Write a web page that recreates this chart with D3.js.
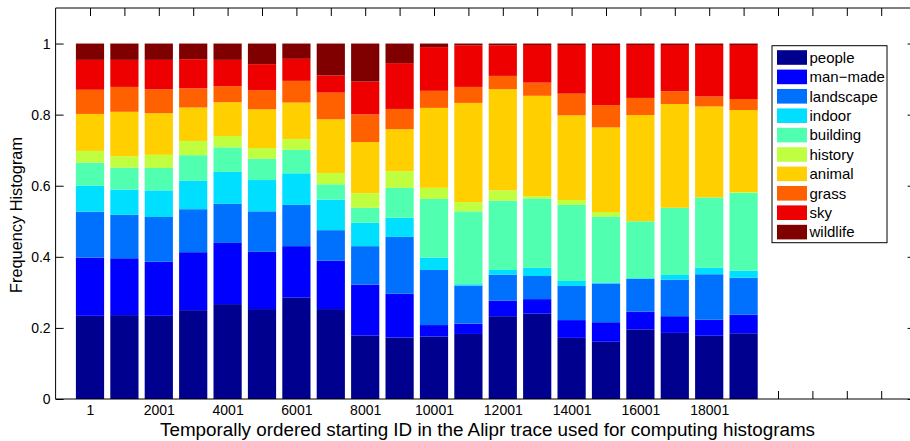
<!DOCTYPE html>
<html>
<head>
<meta charset="utf-8">
<script src="https://cdn.jsdelivr.net/npm/d3@7"></script>
<style>
  html, body { margin: 0; padding: 0; background: #fff; }
  svg { display: block; font-family: "Liberation Sans", Arial, Helvetica, sans-serif; }
</style>
</head>
<body>
<svg id="chart" width="910" height="441"></svg>
<script>
// ---------------- data ----------------
const startIds = [1, 1001, 2001, 3001, 4001, 5001, 6001, 7001, 8001, 9001,
                  10001, 11001, 12001, 13001, 14001, 15001, 16001, 17001, 18001, 19001];
const categories = ["people", "man\u2212made", "landscape", "indoor", "building",
                    "history", "animal", "grass", "sky", "wildlife"];
const people    = [.234,.236,.234,.250,.267,.253,.285,.253,.179,.173,.176,.183,.233,.240,.172,.161,.196,.186,.178,.185];
const manMade   = [.164,.160,.152,.163,.172,.161,.145,.136,.143,.123,.032,.029,.044,.041,.050,.055,.050,.047,.045,.052];
const landscape = [.129,.122,.126,.121,.110,.114,.116,.086,.108,.160,.155,.107,.073,.065,.096,.109,.092,.103,.128,.104];
const indoor    = [.073,.071,.075,.080,.090,.088,.089,.086,.066,.054,.035,.004,.013,.023,.014,.003,.002,.013,.018,.020];
const building  = [.065,.062,.063,.072,.069,.060,.066,.043,.042,.084,.165,.205,.195,.195,.214,.185,.160,.189,.198,.219];
const history   = [.033,.032,.037,.040,.032,.030,.030,.032,.041,.047,.031,.026,.029,.007,.014,.013,.000,.000,.000,.002];
const animal    = [.104,.125,.117,.094,.095,.109,.103,.151,.144,.118,.225,.279,.285,.282,.238,.238,.299,.292,.256,.231];
const grass     = [.068,.070,.067,.054,.045,.054,.061,.075,.078,.057,.048,.045,.037,.037,.061,.063,.048,.036,.028,.031];
const sky       = [.084,.076,.083,.082,.074,.073,.062,.048,.092,.129,.123,.117,.086,.106,.137,.169,.149,.130,.145,.152];
const wildlife  = [.046,.046,.046,.044,.046,.058,.043,.090,.107,.055,.010,.005,.005,.004,.004,.004,.004,.004,.004,.004];
const seriesValues = [people, manMade, landscape, indoor, building, history, animal, grass, sky, wildlife];
const colors = ["#00008F", "#0000FF", "#0070FF", "#00DFFF", "#50FFAF",
                "#BFFF40", "#FFCF00", "#FF6000", "#EF0000", "#800000"];
const xTicks = [1,2,3,4,5,6,7,8,9,10,11,12,13,14,15,16,17,18,19,20,21,22,23,24];
const xTickLabelPositions = [1, 3, 5, 7, 9, 11, 13, 15, 17, 19];
const xTickLabels = ["1", "2001", "4001", "6001", "8001", "10001", "12001", "14001", "16001", "18001"];
const yTicks = [0, 0.2, 0.4, 0.6, 0.8, 1];
const yTickLabels = ["0", "0.2", "0.4", "0.6", "0.8", "1"];
const xTitle = "Temporally ordered starting ID in the Alipr trace used for computing histograms";
const yTitle = "Frequency Histogram";

// ---------------- layout ----------------
const svg = d3.select("#chart");
const pLeft = 55.6, pRight = 915.6, pTop = 8, pBottom = 399;
const x = d3.scaleLinear().domain([0, 25]).range([pLeft, pRight]);
const y = d3.scaleLinear().domain([0, 1.1]).range([pBottom, pTop]);
const barW = 0.82 * (x(1) - x(0));

// table for stacking
const rows = startIds.map((id, i) => {
  const r = { pos: i + 1, id };
  categories.forEach((c, k) => r[c] = seriesValues[k][i]);
  return r;
});
const stacked = d3.stack().keys(categories)(rows);

// axes (ticks beneath bars)
const axesG = svg.append("g");
const labelMap = new Map(xTickLabelPositions.map((p, i) => [p, xTickLabels[i]]));

axesG.append("g").attr("transform", `translate(0,${pBottom})`)
  .call(d3.axisBottom(x).tickValues(xTicks).tickSize(-8).tickSizeOuter(0).tickPadding(6.5)
    .tickFormat(d => labelMap.get(d) || ""));
axesG.append("g").attr("transform", `translate(0,${pTop})`)
  .call(d3.axisTop(x).tickValues(xTicks).tickSize(-8).tickSizeOuter(0).tickFormat(""));
axesG.append("g").attr("transform", `translate(${pLeft},0)`)
  .call(d3.axisLeft(y).tickValues(yTicks).tickSize(-8).tickSizeOuter(0).tickPadding(5)
    .tickFormat((d, i) => yTickLabels[i]));
axesG.append("g").attr("transform", `translate(${pRight},0)`)
  .call(d3.axisRight(y).tickValues(yTicks).tickSize(-8).tickSizeOuter(0).tickFormat(""));
axesG.selectAll(".domain").remove();
axesG.selectAll("text").attr("fill", "#000")
  .attr("font-family", "Liberation Sans, Arial, sans-serif").attr("font-size", 14);
axesG.selectAll(".tick line").attr("stroke", "#000");

// bars
svg.append("g").selectAll("g").data(stacked).join("g")
  .attr("fill", (d, k) => colors[k])
  .selectAll("rect").data(d => d).join("rect")
  .attr("x", d => x(d.data.pos) - barW / 2)
  .attr("width", barW)
  .attr("y", d => y(d[1]))
  .attr("height", d => Math.max(0, y(d[0]) - y(d[1])));

// frame
svg.append("path")
  .attr("d", `M${pLeft},${pTop}H${pRight}V${pBottom}H${pLeft}Z`)
  .attr("fill", "none").attr("stroke", "#000").attr("stroke-width", 1);

// titles
svg.append("text").attr("x", 487.5).attr("y", 435.5)
  .attr("text-anchor", "middle").attr("font-size", 18)
  .attr("textLength", 655).attr("lengthAdjust", "spacingAndGlyphs").text(xTitle);
svg.append("text").attr("transform", `translate(22,215) rotate(-90)`)
  .attr("text-anchor", "middle").attr("font-size", 17)
  .attr("textLength", 156).attr("lengthAdjust", "spacingAndGlyphs").text(yTitle);

// legend
const lg = svg.append("g");
lg.append("rect").attr("x", 772).attr("y", 45.7).attr("width", 115).attr("height", 197)
  .attr("fill", "#fff").attr("stroke", "#000").attr("stroke-width", 1);
categories.forEach((c, k) => {
  const cy = 57.5 + k * 19.4;
  lg.append("rect").attr("x", 777).attr("y", cy - 7.3).attr("width", 30).attr("height", 14.6)
    .attr("fill", colors[k]);
  lg.append("text").attr("x", 809.5).attr("y", cy + 5.3).attr("font-size", 15).text(c);
});
</script>
</body>
</html>
